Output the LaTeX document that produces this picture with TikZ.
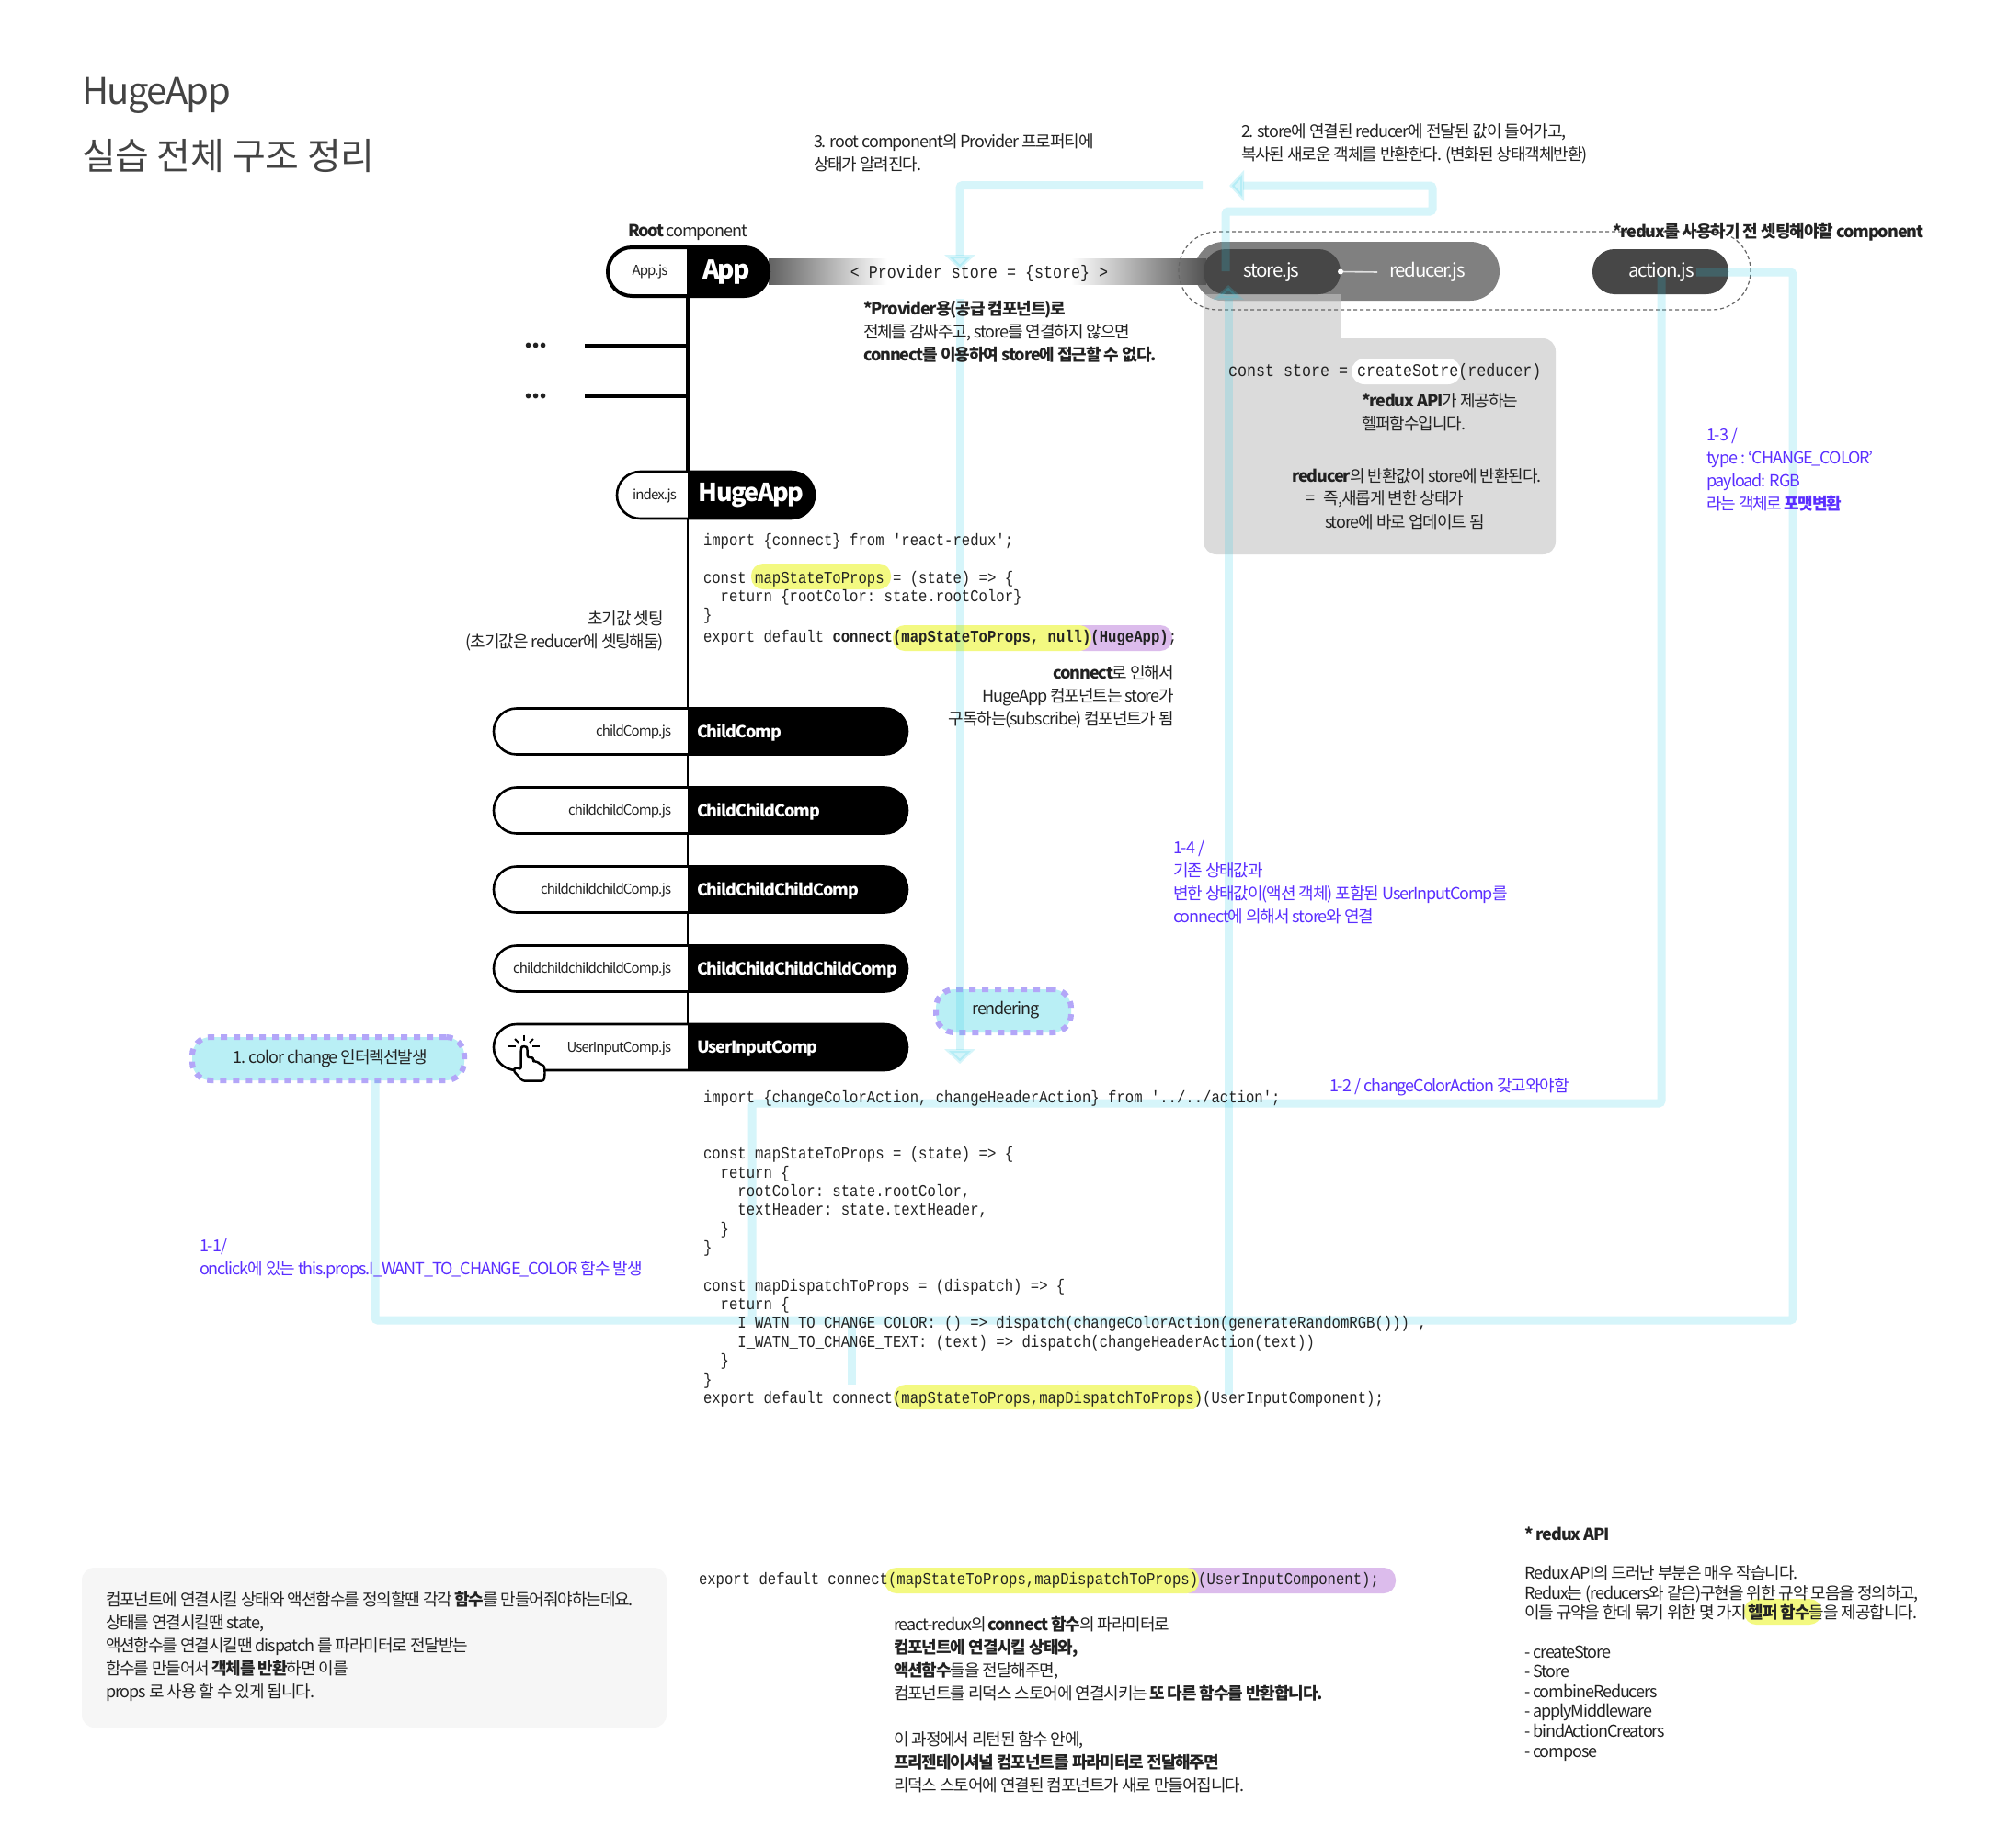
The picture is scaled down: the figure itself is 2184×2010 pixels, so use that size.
\documentclass[tikz,border=0pt]{standalone}
\usepackage{fontspec}
\setmainfont{Noto Sans CJK KR}[LetterSpace=-6]
\setmonofont{Liberation Mono}[FakeStretch=0.86]
\usetikzlibrary{arrows.meta,positioning}

\definecolor{flowcyan}{HTML}{32CDE6}
\definecolor{bluetxt}{HTML}{5A2EFF}
\definecolor{hlyellow}{HTML}{F3F981}
\definecolor{hlpurple}{HTML}{DCBCEC}
\definecolor{bubble}{HTML}{B9EFF5}
\definecolor{bubbledash}{HTML}{B3A6F8}
\definecolor{txt}{HTML}{222222}

\tikzset{
    every node/.style={inner sep=0pt, outer sep=0pt, text=txt},
    body/.style={anchor=west, align=left, yshift=-1pt, font=\fontsize{18}{25}\selectfont},
    bodyr/.style={anchor=east, align=right, yshift=-1pt, font=\fontsize{18}{25}\selectfont},
    blue/.style={body, text=bluetxt},
    code/.style={anchor=west, align=left, yshift=-1pt, font=\ttfamily\fontsize{18.15}{20.4}\selectfont},
    widecode/.style={code, font=\ttfamily\fontsize{19.4}{20}\selectfont},
    filetxt/.style={anchor=east, font=\fontsize{15}{16}\selectfont},
    comptxt/.style={anchor=west, text=white, font=\bfseries\fontsize{18}{20}\selectfont},
    pilltxt/.style={text=white, font=\fontsize{20.5}{22}\selectfont},
    pill/.style={draw=black, fill=white, line width=2.6pt, rounded corners=24.9pt,
        path picture={\fill[black, sharp corners] ([xshift=#1]path picture bounding box.north west)
            rectangle (path picture bounding box.south east);}},
    darkpill/.style={fill=#1, rounded corners=24pt},
    flow/.style={draw=flowcyan, opacity=.2, line width=9pt, rounded corners=3pt},
    flowtip/.style={flow, -{Triangle[width=33pt,length=16pt,fill=flowcyan]}},
    bubblebox/.style={fill=bubble, draw=bubbledash, line width=6pt, dash pattern=on 7pt off 7pt,
        rounded corners=20pt},
    yellowhl/.style={fill=hlyellow, rounded corners=13pt},
    purplehl/.style={fill=hlpurple, rounded corners=13pt},
}

\begin{document}
\begin{tikzpicture}[x=1pt, y=-1pt]

    \useasboundingbox (0,0) rectangle (2184,2010);
    \fill[white] (0,0) rectangle (2184,2010);

    \edef\spineX{748}

    % Title
    \node[anchor=west, font=\fontsize{40}{48}\selectfont\addfontfeature{LetterSpace=-4}, text=txt!85] (title) at (89,104) {HugeApp};
    \node[anchor=west, font=\fontsize{40}{48}\selectfont\addfontfeature{LetterSpace=-1}, text=txt!85] (subtitle) at (89,170) {실습 전체 구조 정리};

    % Store box, behind the pills
    \fill[black!14] (1309,300) rectangle (1458,420);
    \fill[black!14, rounded corners=14pt] (1309,368) rectangle (1692,603);
    \fill[white, rounded corners=14pt] (1470,390) rectangle (1589,418);

    \node[fill=black!50, rounded corners=31.9pt, minimum width=332pt, minimum height=64pt,
        path picture={\fill[black!34, sharp corners] ([xshift=10pt]path picture bounding box.south west)
            rectangle ([xshift=159pt,yshift=7pt]path picture bounding box.south west);}]
        (reducerjs) at (1465,295) {};

    % Provider bar
    \shade[left color=black!62, right color=white] (836,281) rectangle (965,309);
    \shade[left color=white, right color=black!68] (1165,281) rectangle (1312,309);

    \node[darkpill=black!72, minimum width=149pt, minimum height=49pt] (storejs) at (1383.5,295.5) {};
    \node[darkpill=black!72, minimum width=148pt, minimum height=49pt] (actionjs) at (1806,295.5) {};
    \coordinate (reducerend) at (1498,296);
    \draw[black!12, line width=1.6pt] (storejs.east) -- (reducerend);
    \fill[white] (storejs.east) circle (3pt);

    % Dotted set-up frame
    \node[draw=black!60, line width=1.2pt, dash pattern=on 4pt off 3pt, rounded corners=42pt,
        minimum width=622pt, minimum height=85pt] (setup) at (1593,294.5) {};

    % Spine
    \coordinate (sp1) at (\spineX,322);
    \coordinate (sp2) at (\spineX,513);
    \coordinate (sp3) at (\spineX,564);
    \coordinate (sp4) at (\spineX,1114);
    \coordinate (br1) at (636,376);
    \coordinate (br2) at (636,431);
    \draw[line width=4pt] (sp1) -- (sp2);
    \draw[line width=2.2pt] (sp3) -- (sp4);
    \draw[line width=4.5pt] (br1) -- (br1 -| sp1);
    \draw[line width=4.5pt] (br2) -- (br2 -| sp1);
    \node[font=\bfseries\fontsize{26}{26}\selectfont\addfontfeature{LetterSpace=-4}] (dots1) at (583,376) {...};
    \node[font=\bfseries\fontsize{26}{26}\selectfont\addfontfeature{LetterSpace=-4}] (dots2) at (583,431) {...};

    % Components
    \node[pill=86pt, line width=4pt, rounded corners=26.4pt, minimum width=175pt, minimum height=53pt] (app) at (748.5,295.5) {};
    \node[pill=77pt, rounded corners=25.4pt, minimum width=215pt, minimum height=51pt] (hugeapp) at (778.5,538.5) {};
    \foreach \i/\ny/\file/\comp in {
        1/795.5/childComp.js/ChildComp,
        2/881.5/childchildComp.js/ChildChildComp,
        3/967.5/childchildchildComp.js/ChildChildChildComp,
        4/1053.5/childchildchildchildComp.js/ChildChildChildChildComp,
        5/1139/UserInputComp.js/UserInputComp}
    {
        \node[pill=211pt, minimum width=450pt, minimum height=50pt] (child\i) at (762,\ny) {};
        \node[filetxt] (file\i) at (730,\ny+1) {\file};
        \node[comptxt] (comp\i) at (758,\ny+1.5) {\comp};
    }

    % Click hand
    \begin{scope}[shift={(530,1105)}, x=0.3333pt, y=-0.3333pt]
        \foreach \xa/\ya/\xb/\yb in {120/62/120/82, 90/75/102/87, 150/75/138/87, 70/100/92/100, 148/100/170/100}
            \draw[line width=2pt] (\xa,\ya) -- (\xb,\yb);
        \draw[fill=white, line width=2.4pt, rounded corners=2.5pt, line join=round]
            (110,175) -- (110,106) -- (114,99) -- (126,99) -- (131,106) -- (131,137) -- (145,134) -- (151,141)
            -- (151,150) -- (165,148) -- (170,158) -- (185,160) -- (188,185) -- (185,212) -- (115,212)
            -- (85,178) -- (91,169) -- (100,169) -- cycle;
    \end{scope}

    % Bubbles
    \node[bubblebox, minimum width=296pt, minimum height=47pt] (colorchange) at (357,1151.5) {};
    \node[bubblebox, minimum width=147pt, minimum height=47pt] (rendering) at (1091.5,1099.5) {};

    % Highlights
    \fill[yellowhl] (817,613) rectangle (969,641);
    \fill[purplehl] (1165,680) rectangle (1275,708);
    \fill[yellowhl] (971,680) rectangle (1187,708);
    \fill[yellowhl] (972,1506) rectangle (1306,1533);
    \fill[purplehl] (1280,1705) rectangle (1518,1733);
    \fill[yellowhl] (962,1705) rectangle (1304,1733);
    \fill[yellowhl] (1897,1739) rectangle (1981,1767);

    % 1-1: click to action
    \coordinate (f1) at (408,1436);
    \coordinate (f2) at (1950,1436);
    \coordinate (f3) at (1950,296);
    \coordinate (f4) at (1845,296);
    \draw[flow] (colorchange.south -| f1) -- (f1) -- (f2) -- (f3) -- (f4);

    % 1-2: action to mapDispatch
    \coordinate (g1) at (1807,300.5);
    \coordinate (g2) at (1807,1200);
    \coordinate (g3) at (818,1200);
    \coordinate (g4) at (818,1431.5);
    \coordinate (g5) at (926,1440.5);
    \coordinate (g6) at (926,1506);
    \draw[flow] (g1) -- (g2) -- (g3) -- (g4);
    \draw[flow] (g5) -- (g6);

    % 1-4: connect back to store
    \coordinate (h1) at (1336,1517);
    \coordinate (h2) at (1336,310);
    \draw[flowtip] (h1) -- (h2);

    % 2: store to copy
    \coordinate (m1) at (1333,295);
    \coordinate (m2) at (1333,230);
    \coordinate (m3) at (1558,230);
    \coordinate (m4) at (1558,202);
    \coordinate (m5) at (1337,202);
    \draw[flowtip] (m1) -- (m2) -- (m3) -- (m4) -- (m5);

    % 3: copy to provider
    \coordinate (n1) at (1308,201.5);
    \coordinate (n2) at (1044,201.5);
    \coordinate (n3) at (1044,293);
    \coordinate (n4) at (1044,325);
    \coordinate (n5) at (1044,1157);
    \draw[flowtip] (n1) -- (n2) -- (n3);
    \draw[flowtip] (n4) -- (n5);

    % Pill labels
    \node[font=\fontsize{15}{16}\selectfont] (appfile) at (707,295) {App.js};
    \node[font=\bfseries\fontsize{28}{30}\selectfont, text=white] (applbl) at (790,296) {App};
    \node[font=\fontsize{15}{16}\selectfont] (hugefile) at (712,539) {index.js};
    \node[font=\bfseries\fontsize{27}{30}\selectfont, text=white] (hugelbl) at (817,539) {HugeApp};
    \node[pilltxt] (storelbl) at (1383,296) {store.js};
    \node[pilltxt] (reducerlbl) at (1552.5,296) {reducer.js};
    \node[pilltxt] (actionlbl) at (1807,296) {action.js};
    \node (colorlbl) [font=\fontsize{18}{20}\selectfont] at (359,1151) {1. color change 인터렉션발생};
    \node (renderlbl) [font=\fontsize{18}{20}\selectfont] at (1094,1099) {rendering};

    % Notes on top
    \node[body] (rootnote) at (683,252) {\textbf{Root} component};
    \node[body] (step3) at (885,165.5) {3. root component의 Provider 프로퍼티에\\상태가 알려진다.};
    \node[body] (step2) at (1350,155) {2. store에 연결된 reducer에 전달된 값이 들어가고,\\복사된 새로운 객체를 반환한다. (변화된 상태객체반환)};
    \node[body, font=\bfseries\fontsize{18}{25}\selectfont] (setupnote) at (1754,252) {*redux를 사용하기 전 셋팅해야할 component};
    \node[widecode, anchor=center] (providertxt) at (1065,296) {< Provider store = \{store\} >};
    \node[body] (providernote) at (939,360) {\textbf{*Provider용(공급 컴포넌트)로}\\전체를 감싸주고, store를 연결하지 않으면\\\textbf{connect를 이용하여 store에 접근할 수 없다.}};

    % Store box texts
    \node[widecode] (storecode) at (1336,403) {const store = createSotre(reducer)};
    \node[body] (storenote) at (1481,447) {\textbf{*redux API}가 제공하는\\헬퍼함수입니다.};
    \node[body] (retnote) at (1405,516.5) {\textbf{reducer}의 반환값이 store에 반환된다.};
    \node[body] (retnote2) at (1420,542) {=\hspace{10pt}즉,새롭게 변한 상태가};
    \node[body] (retnote3) at (1441,567) {store에 바로 업데이트 됨};

    % Blue flow notes
    \node[blue] (note13) at (1856,510) {1-3 /\\type : ‘CHANGE\_COLOR’\\payload: RGB\\라는 객체로 \textbf{포맷변환}};
    \node[blue] (note14) at (1276,958.5) {1-4 /\\기존 상태값과\\변한 상태값이(액션 객체) 포함된 UserInputComp를\\connect에 의해서 store와 연결};
    \node[blue] (note12) at (1446,1181) {1-2 / changeColorAction 갖고와야함};
    \node[blue] (note11) at (217,1367.5) {1-1/\\onclick에 있는 this.props.I\_WANT\_TO\_CHANGE\_COLOR 함수 발생};

    % HugeApp code
    \node[code] (hugecode) at (765,628.5) {import \{connect\} from 'react-redux';\\[20.4pt]
        const mapStateToProps = (state) => \{\\
        \ \ return \{rootColor: state.rootColor\}\\
        \}};
    \node[code] (hugeexport) at (765,693) {export default \textbf{connect(mapStateToProps, null)(HugeApp)};};
    \node[bodyr] (initnote) at (722,685.5) {초기값 셋팅\\(초기값은 reducer에 셋팅해둠)};
    \node[bodyr] (connectnote) at (1277,756.5) {\textbf{connect}로 인해서\\HugeApp 컴포넌트는 store가\\구독하는(subscribe) 컴포넌트가 됨};

    % UserInputComp code
    \node[code] (inputimport) at (765,1194) {import \{changeColorAction, changeHeaderAction\} from '../../action';};
    \node[code] (inputstate) at (765,1306) {const mapStateToProps = (state) => \{\\
        \ \ return \{\\
        \ \ \ \ rootColor: state.rootColor,\\
        \ \ \ \ textHeader: state.textHeader,\\
        \ \ \}\\
        \}};
    \node[code] (inputdisp) at (765,1459.5) {const mapDispatchToProps = (dispatch) => \{\\
        \ \ return \{\\
        \ \ \ \ I\_WATN\_TO\_CHANGE\_COLOR: () => dispatch(changeColorAction(generateRandomRGB())) ,\\
        \ \ \ \ I\_WATN\_TO\_CHANGE\_TEXT: (text) => dispatch(changeHeaderAction(text))\\
        \ \ \}\\
        \}\\
        export default connect(mapStateToProps,mapDispatchToProps)(UserInputComponent);};

    % Bottom notes
    \fill[black!3.5, rounded corners=14pt] (89,1705) rectangle (725,1879);
    \node[body] (leftnote) at (115,1790) {컴포넌트에 연결시킬 상태와 액션함수를 정의할땐 각각 \textbf{함수}를 만들어줘야하는데요.\\상태를 연결시킬땐 state,\\액션함수를 연결시킬땐 dispatch 를 파라미터로 전달받는\\함수를 만들어서 \textbf{객체를 반환}하면 이를\\props 로 사용 할 수 있게 됩니다.};
    \node[code] (bottomcode) at (760,1718) {export default connect(mapStateToProps,mapDispatchToProps)(UserInputComponent);};
    \node[body] (midnote) at (972,1853.5) {react-redux의 \textbf{connect 함수}의 파라미터로\\\textbf{컴포넌트에 연결시킬 상태와,}\\\textbf{액션함수}들을 전달해주면,\\컴포넌트를 리덕스 스토어에 연결시키는 \textbf{또 다른 함수를 반환합니다.}\\[25pt]이 과정에서 리턴된 함수 안에,\\\textbf{프리젠테이셔널 컴포넌트를 파라미터로 전달해주면}\\리덕스 스토어에 연결된 컴포넌트가 새로 만들어집니다.};
    \node[body] (apititle) at (1658,1667) {\textbf{* redux API}};
    \node[body, font=\fontsize{18}{21.7}\selectfont] (apinote) at (1658,1731.5) {Redux API의 드러난 부분은 매우 작습니다.\\Redux는 (reducers와 같은)구현을 위한 규약 모음을 정의하고,\\이들 규약을 한데 묶기 위한 몇 가지 \textbf{헬퍼 함수}들을 제공합니다.};
    \node[body, font=\fontsize{18}{21.6}\selectfont] (apilist) at (1658,1851.5) {- createStore\\- Store\\- combineReducers\\- applyMiddleware\\- bindActionCreators\\- compose};

\end{tikzpicture}
\end{document}
